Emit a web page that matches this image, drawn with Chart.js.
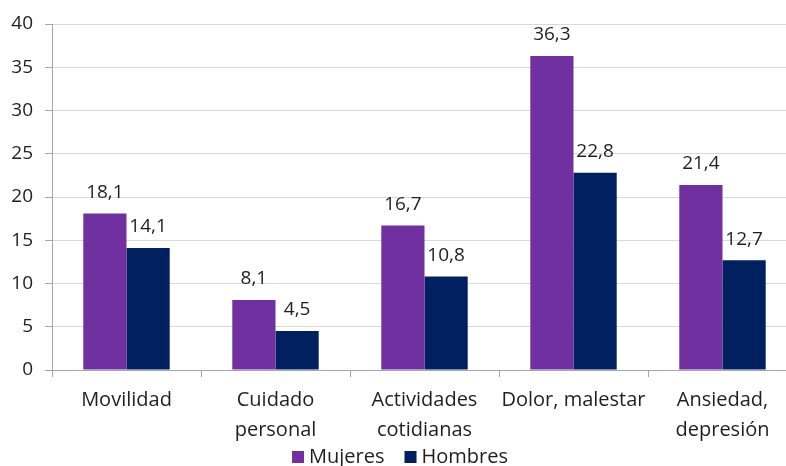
<!DOCTYPE html>
<html>
<head>
<meta charset="utf-8">
<script src="https://cdn.jsdelivr.net/npm/chart.js@4/dist/chart.umd.min.js"></script>
<style>
  html, body { margin: 0; padding: 0; background: #fff; overflow: hidden; }
  #wrap { width: 797px; height: 466px; }
</style>
</head>
<body>
<div id="wrap"><canvas id="chart"></canvas></div>
<script>
const categories = [["Movilidad"], ["Cuidado", "personal"], ["Actividades", "cotidianas"], ["Dolor, malestar"], ["Ansiedad,", "depresión"]];
const seriesNames = ["Mujeres", "Hombres"];
const mujeres = [18.1, 8.1, 16.7, 36.3, 21.4];
const hombres = [14.1, 4.5, 10.8, 22.8, 12.7];
const yTicks = [0, 5, 10, 15, 20, 25, 30, 35, 40];

const FONT = "'Open Sans', sans-serif";
const TEXT = '#1f1f1f';

// value labels above each bar
const barLabels = {
  id: 'barLabels',
  afterDatasetsDraw(chart) {
    const ctx = chart.ctx;
    ctx.save();
    ctx.font = '19px ' + FONT;
    ctx.fillStyle = TEXT;
    ctx.textAlign = 'center';
    ctx.textBaseline = 'middle';
    chart.data.datasets.forEach((ds, i) => {
      chart.getDatasetMeta(i).data.forEach((bar, j) => {
        const txt = ds.data[j].toFixed(1).replace('.', ',');
        ctx.fillText(txt, bar.x, bar.y - 21);
      });
    });
    ctx.restore();
  }
};

// legend drawn by hand, it sits partly under the axis labels area
const bottomLegend = {
  id: 'bottomLegend',
  afterDraw(chart) {
    const ctx = chart.ctx;
    const y = 457, box = 12, gap = 5, itemGap = 20;
    ctx.save();
    ctx.font = '20px ' + FONT;
    ctx.textBaseline = 'middle';
    const items = chart.data.datasets.map(ds => ({ ds, w: ctx.measureText(ds.label).width }));
    const total = items.reduce((s, it) => s + box + gap + it.w, 0) + itemGap * (items.length - 1);
    let x = 400 - total / 2;
    items.forEach(it => {
      ctx.fillStyle = it.ds.backgroundColor;
      ctx.fillRect(x, y - box / 2, box, box);
      x += box + gap;
      ctx.fillStyle = TEXT;
      ctx.fillText(it.ds.label, x, y);
      x += it.w + itemGap;
    });
    ctx.restore();
  }
};

new Chart(document.getElementById('chart'), {
  type: 'bar',
  data: {
    labels: categories,
    datasets: [
      { label: seriesNames[0], data: mujeres, backgroundColor: '#7030A0' },
      { label: seriesNames[1], data: hombres, backgroundColor: '#002060' }
    ]
  },
  options: {
    responsive: true,
    maintainAspectRatio: false,
    animation: false,
    layout: { padding: { top: 24, right: 0, left: 0, bottom: 0 } },
    datasets: { bar: { barPercentage: 1, categoryPercentage: 0.58 } },
    scales: {
      x: {
        afterFit(scale) { scale.height = 96; },
        grid: { offset: true, drawOnChartArea: false, tickLength: 7, color: '#a6a6a6' },
        border: { color: '#a6a6a6' },
        ticks: { color: TEXT, padding: 8, maxRotation: 0, font: { family: FONT, size: 20, lineHeight: 1.5 } }
      },
      y: {
        min: 0,
        max: 40,
        afterFit(scale) { scale.width = 52; },
        afterBuildTicks(scale) { scale.ticks = yTicks.map(v => ({ value: v })); },
        grid: { color: '#d9d9d9', tickColor: '#a6a6a6', tickLength: 7 },
        border: { color: '#a6a6a6' },
        ticks: { color: TEXT, padding: 12, font: { family: FONT, size: 19 } }
      }
    },
    plugins: {
      legend: { display: false },
      tooltip: { enabled: false }
    }
  },
  plugins: [barLabels, bottomLegend]
});
</script>
</body>
</html>
